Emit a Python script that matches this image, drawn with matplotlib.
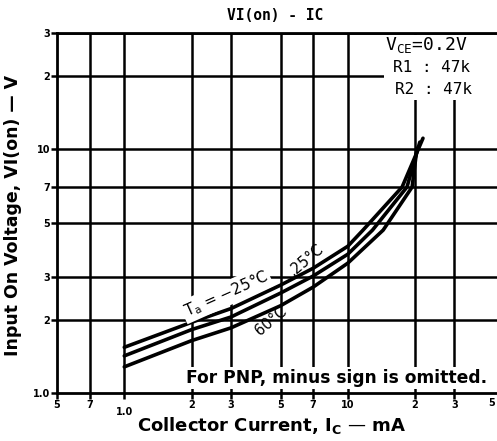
import matplotlib
matplotlib.use("Agg")
from matplotlib import pyplot as plt
from matplotlib.patches import Rectangle
from matplotlib.ticker import FixedLocator, NullLocator

# values (Ic in mA, Vi(on) in V)
ic_m25 = [1.0, 2.0, 3.0, 5.0, 7.0, 10.0, 11.7, 17.5, 21.7]
v_m25 = [1.54, 1.95, 2.22, 2.77, 3.25, 4.0, 4.66, 7.0, 11.1]
ic_25 = [1.0, 2.0, 3.0, 5.0, 7.0, 10.0, 12.9, 18.4, 21.0]
v_25 = [1.42, 1.82, 2.05, 2.57, 3.02, 3.71, 4.66, 7.0, 10.7]
ic_60 = [1.0, 2.0, 3.0, 5.0, 7.0, 10.0, 14.4, 19.4, 20.4]
v_60 = [1.28, 1.64, 1.85, 2.28, 2.72, 3.41, 4.66, 7.0, 10.1]

x_ticks = [0.5, 0.7, 1.0, 2, 3, 5, 7, 10, 20, 30, 50]
x_labels = ["5", "7", "1.0", "2", "3", "5", "7", "10", "2", "3", ""]
y_ticks = [1, 2, 3, 5, 7, 10, 20, 30]
y_labels = ["1.0", "2", "3", "5", "7", "10", "2", "3"]

W, H = 497, 441
fig = plt.figure(figsize=(W / 100, H / 100), dpi=100)
ax = fig.add_axes([57 / W, 1 - 393 / H, (504 - 57) / W, (393 - 33) / H])
ax.set_xscale("log")
ax.set_yscale("log")
ax.set_xlim(0.5, 50)
ax.set_ylim(1, 30)

def px(xp, yp):
    return (xp / W, 1 - yp / H)

# grid drawn by hand so it sits under the white text boxes
for xv in x_ticks[1:]:
    ax.axvline(xv, color="black", lw=1.8, zorder=1)
for yv in y_ticks[1:]:
    ax.axhline(yv, color="black", lw=1.8, zorder=1)

# blank patch behind the condition text (top right)
fig.add_artist(Rectangle(px(384, 100), (497 - 384) / W, (100 - 35) / H,
                         transform=fig.transFigure, facecolor="white",
                         edgecolor="none", zorder=2))

for ic, v in [(ic_m25, v_m25), (ic_25, v_25), (ic_60, v_60)]:
    ax.plot(ic, v, color="black", lw=2.6, solid_capstyle="round",
            solid_joinstyle="round", zorder=3)

ax.xaxis.set_major_locator(FixedLocator(x_ticks))
ax.xaxis.set_minor_locator(NullLocator())
ax.set_xticklabels(x_labels)
ax.yaxis.set_major_locator(FixedLocator(y_ticks))
ax.yaxis.set_minor_locator(NullLocator())
ax.set_yticklabels(y_labels)
ax.tick_params(axis="both", length=4, width=1.8, labelsize=7, pad=1)
for lab in ax.get_xticklabels():
    lab.set_fontweight("bold")
for lab in ax.get_yticklabels():
    lab.set_fontweight("bold")
ax.get_xticklabels()[2].set_y(-0.02)
# last x label sits at the picture edge in the original
fig.text(*px(492, 398), "5", fontsize=7, fontweight="bold",
         ha="center", va="top")

for s in ["left", "bottom", "top"]:
    ax.spines[s].set_linewidth(2)
ax.spines["right"].set_visible(False)

white = dict(facecolor="white", edgecolor="none", pad=1.5)

fig.text(*px(337, 378), "For PNP, minus sign is omitted.", fontsize=12.3,
         fontweight="bold", ha="center", va="center", color="black",
         bbox=white, zorder=4)

mono = "DejaVu Sans Mono"
fig.text(*px(385, 45), "V$_{\\mathregular{CE}}$=0.2V", fontsize=13,
         family=mono, ha="left", va="center", zorder=5)
fig.text(*px(393, 67), "R1 : 47k", fontsize=11.5, family=mono,
         ha="left", va="center", zorder=5)
fig.text(*px(395, 89), "R2 : 47k", fontsize=11.5, family=mono,
         ha="left", va="center", zorder=5)

# curve labels, placed in pixel terms of the original sheet
fig.text(*px(226, 294), "T$_\\mathregular{a}$ = \u221225\u00b0C", fontsize=11,
         rotation=24, ha="center", va="center", bbox=white, zorder=5)
fig.text(*px(306, 260), ",25\u00b0C", fontsize=10.5, rotation=40,
         ha="center", va="center", zorder=5)
fig.text(*px(271, 321), "60\u00b0C", fontsize=10.5, rotation=40,
         ha="center", va="center", zorder=5)

fig.text(275 / W, 1 - 16 / H, "VI(on) - IC", fontsize=10.5,
         family=mono, fontweight="bold", ha="center", va="center")
fig.text(13 / W, 1 - 215 / H, "Input On Voltage, VI(on) \u2014 V", fontsize=12.5,
         fontweight="bold", rotation=90, ha="center", va="center")
fig.text(272 / W, 1 - 425 / H, "Collector Current, I$_\\mathregular{C}$ \u2014 mA",
         fontsize=13, fontweight="bold", ha="center", va="center")

fig.savefig("out.png", dpi=100)
